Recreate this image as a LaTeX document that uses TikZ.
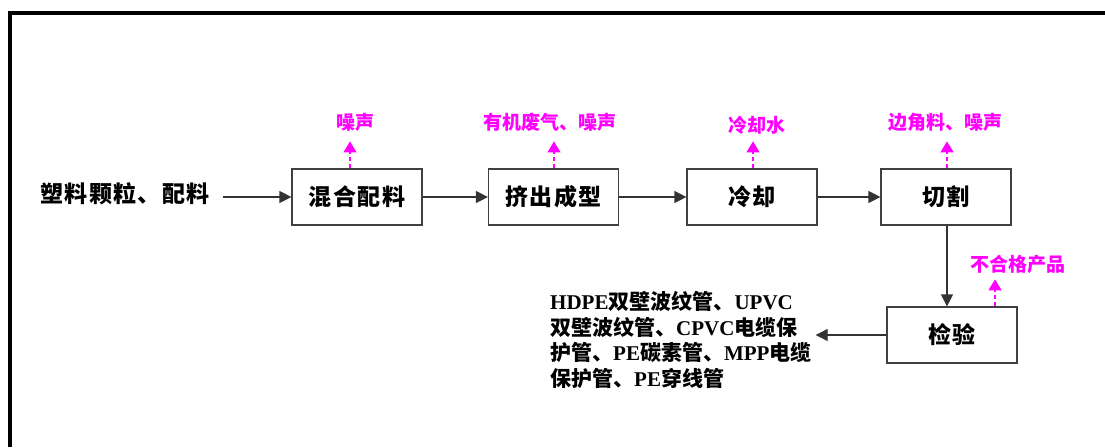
\documentclass[tikz,border=0pt]{standalone}
\usepackage{fontspec}
\setmainfont{Liberation Serif}
\newfontfamily\cjk{Noto Sans CJK SC}
\usetikzlibrary{arrows.meta,positioning}
\definecolor{emitpink}{RGB}{255,0,255}

\begin{document}
\begin{tikzpicture}[
        x=1pt, y=-1pt,
        every node/.style={font=\cjk\bfseries\fontsize{23}{26}\selectfont\addfontfeature{LetterSpace=6}},
        proc/.style={draw=black!75, line width=1.2pt, rectangle, minimum width=130pt, minimum height=56pt, inner sep=0pt},
        arrow/.style={-{Triangle[length=12pt,width=12pt]}, line width=1.2pt, black!80},
        emit/.style={-{Triangle[length=11pt,width=13pt]}, line width=1.2pt, emitpink, dash pattern=on 4pt off 3pt},
        emitlabel/.style={text=emitpink, font=\cjk\bfseries\fontsize{19}{22}\selectfont}
    ]
        \useasboundingbox (0,0) rectangle (1105,447);

        % Cornice
        \draw[line width=4pt] (8,13) -- (1105,13);
        \draw[line width=4pt] (10,11) -- (10,447);

        % Materie prime
        \node (raw) at (125,194) {塑料颗粒、配料};

        % Fasi di lavorazione
        \node[proc] (mix) at (357,197) {混合配料};
        \node[proc] (extrude) at (553.5,197) {挤出成型};
        \node[proc] (cool) at (752,197) {冷却};
        \node[proc] (cut) at (946,197) {切割};
        \node[proc] (check) at (952,335) {检验};

        % Prodotti
        \node[anchor=west, align=left, inner sep=4pt, font=\cjk\bfseries\fontsize{21}{25.5}\selectfont] (prod) at (546,340)
            {{\rmfamily\bfseries HDPE}双壁波纹管、{\rmfamily\bfseries UPVC}\\
             双壁波纹管、{\rmfamily\bfseries CPVC}电缆保\\
             护管、{\rmfamily\bfseries PE}碳素管、{\rmfamily\bfseries MPP}电缆\\
             保护管、{\rmfamily\bfseries PE}穿线管};

        % Archi
        \draw[arrow] ([xshift=10pt]raw.east |- mix.west) -- (mix);
        \draw[arrow] (mix) -- (extrude);
        \draw[arrow] (extrude) -- (cool);
        \draw[arrow] (cool) -- (cut);
        \draw[arrow] ([xshift=1pt]cut.south) -- ([xshift=1pt]cut.south |- check.north);
        \draw[arrow] (check.west) -- (check.west -| prod.east);

        % Emissioni
        \coordinate (t1) at ([xshift=-7pt, yshift=27pt]mix.north);
        \coordinate (t2) at ([xshift=0.5pt, yshift=27pt]extrude.north);
        \coordinate (t3) at ([xshift=1pt, yshift=27pt]cool.north);
        \coordinate (t4) at ([xshift=1pt, yshift=27pt]cut.north);
        \coordinate (t5) at ([xshift=43pt, yshift=27pt]check.north);
        \draw[emit] (t1 |- mix.north) -- (t1);
        \draw[emit] (t2 |- extrude.north) -- (t2);
        \draw[emit] (t3 |- cool.north) -- (t3);
        \draw[emit] (t4 |- cut.north) -- (t4);
        \draw[emit] (t5 |- check.north) -- (t5);

        \node[emitlabel] (n1) at (355,122) {噪声};
        \node[emitlabel] (n2) at (550,122) {有机废气、噪声};
        \node[emitlabel] (n3) at (757,125) {冷却水};
        \node[emitlabel] (n4) at (945,122) {边角料、噪声};
        \node[emitlabel] (n5) at (1018,264) {不合格产品};

    \end{tikzpicture}
\end{document}
